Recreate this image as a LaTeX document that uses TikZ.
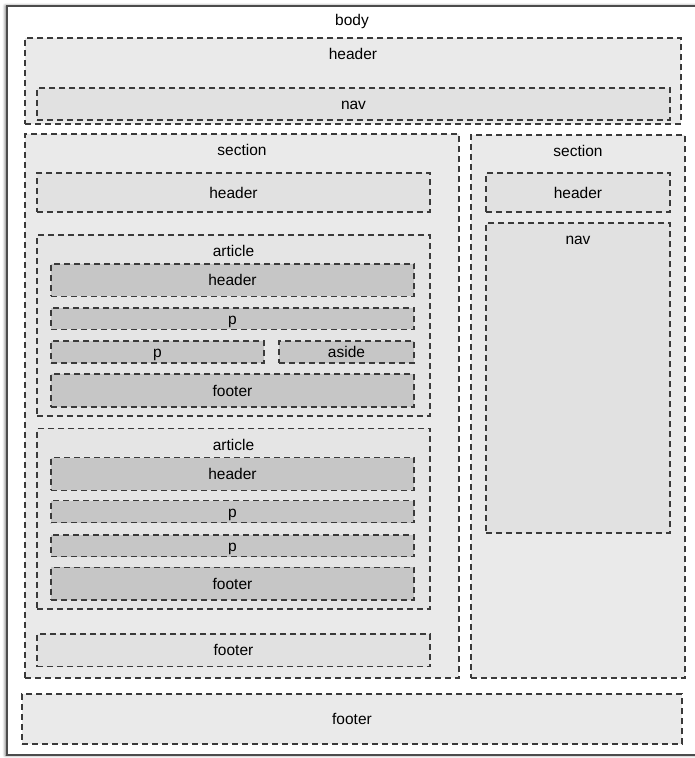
\documentclass[tikz,border=0pt]{standalone}
\usepackage{fontspec}
\setmainfont{Liberation Sans}
\usepackage{xcolor}
\usetikzlibrary{shadows.blur}

\definecolor{fillA}{HTML}{EAEAEA}
\definecolor{fillB}{HTML}{E1E1E1}
\definecolor{fillC}{HTML}{E5E5E5}
\definecolor{fillD}{HTML}{C6C6C6}
\definecolor{lineD}{HTML}{3A3A3A}

\begin{document}
\begin{tikzpicture}[
  x=1pt, y=-1pt,
  font=\fontsize{15.5}{17}\selectfont,
  base/.style={
    rectangle, draw=lineD, line width=1.2pt,
    dash pattern=on 6pt off 4pt, inner sep=0pt,
    text height=11pt, text depth=0pt
  },
  blk/.style={base, fill=fillA},
  sub/.style={base, fill=fillB},
  art/.style={base, fill=fillC},
  itm/.style={base, fill=fillD},
  lbl/.style={anchor=center, yshift=-17pt, inner sep=0pt,
    text height=11pt, text depth=0pt}
]
\useasboundingbox (0,0) rectangle (695,758);

% page frame
\node[rectangle, draw=black!70, line width=1.4pt, fill=white,
  minimum width=690pt, minimum height=749pt,
  blur shadow={shadow xshift=-1.5pt, shadow yshift=0pt,
    shadow blur radius=3pt, shadow opacity=60},
  label={[lbl, yshift=2.5pt]north:body}] (body) at (352,380.5) {};

% page header
\node[blk, minimum width=656pt, minimum height=86pt,
  label={[lbl]north:header}] (bhead) at (353,81) {};
\node[sub, minimum width=633pt, minimum height=32pt] (bnav) at (353.5,104) {nav};

% main section
\node[blk, minimum width=434pt, minimum height=544pt,
  label={[lbl]north:section}] (secL) at (242,406) {};
\node[sub, minimum width=393pt, minimum height=39pt] (secLhead) at (233.5,192.5) {header};

% first article
\node[art, minimum width=393pt, minimum height=181pt,
  label={[lbl]north:article}] (art1) at (233.5,325.5) {};
\node[itm, minimum width=363pt, minimum height=32.5pt] (a1head) at (232.5,280.2) {header};
\node[itm, minimum width=363pt, minimum height=21.5pt] (a1p) at (232.5,318.7) {p};
\node[itm, minimum width=213pt, minimum height=22pt] (a1pl) at (157.5,352) {p};
\node[itm, minimum width=135pt, minimum height=22pt] (a1aside) at (346.5,352) {aside};
\node[itm, minimum width=363pt, minimum height=33pt] (a1foot) at (232.5,390.5) {footer};

% second article
\node[art, minimum width=393pt, minimum height=180.5pt,
  label={[lbl]north:article}] (art2) at (233.5,518.7) {};
\node[itm, minimum width=363pt, minimum height=32.5pt] (a2head) at (232.5,474) {header};
\node[itm, minimum width=363pt, minimum height=22pt] (a2p1) at (232.5,511.7) {p};
\node[itm, minimum width=363pt, minimum height=21.7pt] (a2p2) at (232.5,545.8) {p};
\node[itm, minimum width=363pt, minimum height=32.7pt] (a2foot) at (232.5,583.7) {footer};

\node[sub, minimum width=393pt, minimum height=32.7pt] (secLfoot) at (233.5,650.3) {footer};

% side section
\node[blk, minimum width=214pt, minimum height=543pt,
  label={[lbl]north:section}] (secR) at (578,406.5) {};
\node[sub, minimum width=184pt, minimum height=39pt] (secRhead) at (578,192.5) {header};
\node[sub, minimum width=184pt, minimum height=310pt,
  label={[lbl]north:nav}] (secRnav) at (578,378) {};

% page footer
\node[blk, minimum width=660pt, minimum height=50pt] (bfoot) at (352,719) {footer};

\end{tikzpicture}
\end{document}
